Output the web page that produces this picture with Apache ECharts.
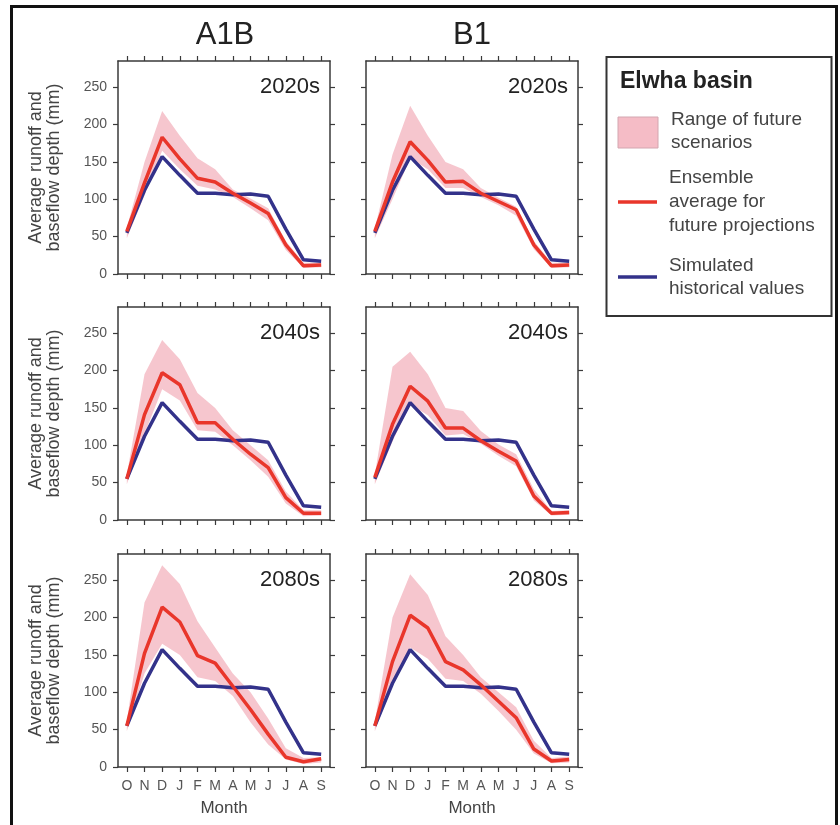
<!DOCTYPE html>
<html><head><meta charset="utf-8">
<script src="https://cdn.jsdelivr.net/npm/echarts@6/dist/echarts.min.js"></script>
<style>html,body{margin:0;padding:0;background:#fff}#c{width:840px;height:825px}</style>
</head><body><div id="c"></div>
<script>
// ---------- data ----------
const months = ['O','N','D','J','F','M','A','M','J','J','A','S'];
const yTicks = [0, 50, 100, 150, 200, 250];
const panelTitles = ['2020s', '2040s', '2080s'];
const scenarioTitles = ['A1B', 'B1'];

const historical = [55, 112, 157, 132, 108, 108, 106, 107, 104, 60, 19, 17];

const a1b2020sMean = [57, 122, 183, 154, 128, 123, 108, 95, 81, 39, 11, 12];
const a1b2020sHigh = [62, 150, 218, 185, 155, 140, 113, 101, 88, 44, 15, 15];
const a1b2020sLow  = [48, 105, 165, 140, 118, 113, 103, 88, 72, 32, 8, 9];

const b12020sMean = [57, 123, 177, 152, 123, 124, 108, 97, 86, 39, 11, 12];
const b12020sHigh = [61, 160, 225, 185, 150, 140, 115, 102, 90, 44, 15, 15];
const b12020sLow  = [48, 100, 155, 140, 115, 115, 103, 92, 78, 33, 8, 9];

const a1b2040sMean = [55, 141, 197, 181, 130, 130, 108, 88, 70, 30, 9, 9];
const a1b2040sHigh = [61, 195, 241, 215, 170, 150, 120, 100, 80, 38, 13, 13];
const a1b2040sLow  = [48, 115, 175, 160, 120, 118, 100, 80, 58, 22, 5, 6];

const b12040sMean = [57, 128, 179, 159, 123, 123, 106, 92, 79, 32, 9, 10];
const b12040sHigh = [61, 205, 225, 195, 150, 146, 119, 101, 88, 41, 12, 13];
const b12040sLow  = [48, 105, 155, 140, 113, 115, 102, 86, 72, 26, 6, 7];

const a1b2080sMean = [55, 152, 214, 194, 149, 139, 108, 77, 44, 13, 7, 11];
const a1b2080sHigh = [62, 220, 270, 245, 195, 160, 125, 100, 65, 25, 12, 13];
const a1b2080sLow  = [48, 125, 165, 150, 120, 115, 95, 60, 30, 10, 4, 6];

const b12080sMean = [55, 141, 203, 186, 141, 130, 110, 88, 66, 24, 8, 10];
const b12080sHigh = [61, 200, 258, 230, 175, 150, 120, 100, 80, 35, 12, 14];
const b12080sLow  = [48, 110, 160, 145, 118, 115, 98, 75, 50, 18, 5, 6];

// ---------- layout ----------
const FONT = 'Liberation Sans, Arial, Helvetica, sans-serif';
const frameColor = '#3a3a3a';
const redColor = '#e9362b';
const blueColor = '#33328a';
const pinkColor = '#f5bcc6';
const colLeft = [118, 366];
const rowTop = [61, 307, 554];
const W = 212, H = 213;
const YMAX = 285;

const panels = [
  {row:0, col:0, mean:a1b2020sMean, high:a1b2020sHigh, low:a1b2020sLow},
  {row:0, col:1, mean:b12020sMean,  high:b12020sHigh,  low:b12020sLow},
  {row:1, col:0, mean:a1b2040sMean, high:a1b2040sHigh, low:a1b2040sLow},
  {row:1, col:1, mean:b12040sMean,  high:b12040sHigh,  low:b12040sLow},
  {row:2, col:0, mean:a1b2080sMean, high:a1b2080sHigh, low:a1b2080sLow},
  {row:2, col:1, mean:b12080sMean,  high:b12080sHigh,  low:b12080sLow}
];

const grid = [], xAxis = [], yAxis = [], series = [], graphic = [];
const axisLineStyle = {show:true, onZero:false, lineStyle:{color:frameColor, width:1.5}};
const tickStyle = {lineStyle:{color:frameColor, width:1.2}, length:5};

panels.forEach((p, i) => {
  const left = colLeft[p.col], top = rowTop[p.row];
  grid.push({left:left, top:top, width:W, height:H, containLabel:false});
  const showX = p.row === 2;
  xAxis.push({
    gridIndex:i, type:'category', data:months, position:'bottom', boundaryGap:true,
    axisLine:axisLineStyle,
    axisTick:Object.assign({show:true, alignWithLabel:true, interval:0}, tickStyle),
    axisLabel:{show:showX, interval:0, margin:12, fontSize:14, color:'#555', fontFamily:FONT},
    name: showX ? 'Month' : '', nameLocation:'middle', nameGap:33,
    nameTextStyle:{fontSize:17, color:'#444', fontFamily:FONT}
  });
  xAxis.push({
    gridIndex:i, type:'category', data:months, position:'top', boundaryGap:true,
    axisLine:axisLineStyle,
    axisTick:Object.assign({show:true, alignWithLabel:true, interval:0}, tickStyle),
    axisLabel:{show:false}
  });
  yAxis.push({
    gridIndex:i, type:'value', min:0, max:YMAX, interval:50, position:'left',
    axisLine:axisLineStyle,
    axisTick:Object.assign({show:true, customValues:yTicks}, tickStyle),
    axisLabel:{show:p.col === 0, customValues:yTicks, margin:11, fontSize:14, color:'#555', fontFamily:FONT},
    splitLine:{show:false}
  });
  yAxis.push({
    gridIndex:i, type:'value', min:0, max:YMAX, interval:50, position:'right',
    axisLine:axisLineStyle,
    axisTick:Object.assign({show:true, customValues:yTicks}, tickStyle),
    axisLabel:{show:false}, splitLine:{show:false}
  });
  const xi = 2*i, yi = 2*i;
  const band = p.high.map((v, k) => v - p.low[k]);
  series.push({
    type:'line', xAxisIndex:xi, yAxisIndex:yi, data:p.low, stack:'band'+i,
    symbol:'none', lineStyle:{opacity:0}, silent:true, z:1
  });
  series.push({
    type:'line', xAxisIndex:xi, yAxisIndex:yi, data:band, stack:'band'+i,
    symbol:'none', lineStyle:{opacity:0}, areaStyle:{color:pinkColor, opacity:0.85}, silent:true, z:1
  });
  series.push({
    type:'line', xAxisIndex:xi, yAxisIndex:yi, data:historical,
    symbol:'none', lineStyle:{color:blueColor, width:3.5}, silent:true, z:3
  });
  series.push({
    type:'line', xAxisIndex:xi, yAxisIndex:yi, data:p.mean,
    symbol:'none', lineStyle:{color:redColor, width:3.5}, silent:true, z:4
  });
  // panel title
  graphic.push({type:'text', x:left + W - 10, y:top + 26, z:10,
    style:{text:panelTitles[p.row], fontSize:22, fontFamily:FONT, fill:'#222',
      textAlign:'right', textVerticalAlign:'middle'}});
  // y-axis name
  if (p.col === 0) {
    graphic.push({type:'text', x:45, y:top + H/2, rotation:Math.PI/2, z:10,
      style:{text:'Average runoff and\nbaseflow depth (mm)', fontSize:18, lineHeight:18,
        fontFamily:FONT, fill:'#444', textAlign:'center', textVerticalAlign:'middle'}});
  }
});

// scenario headings
scenarioTitles.forEach((t, c) => {
  graphic.push({type:'text', x:colLeft[c] + W/2 + (c === 0 ? 1 : 0), y:35, z:10,
    style:{text:t, fontSize:31, fontFamily:FONT, fill:'#222', textAlign:'center', textVerticalAlign:'middle'}});
});

// outer frame
graphic.push({type:'polyline', z:10, shape:{points:[[11.5,825],[11.5,6.5],[836.5,6.5],[836.5,825]]},
  style:{stroke:'#111', lineWidth:3, fill:null}});

// legend box
graphic.push({type:'rect', z:10, shape:{x:606.5, y:57, width:225, height:259},
  style:{stroke:'#333', lineWidth:2, fill:'#fff'}});
graphic.push({type:'text', x:620, y:82, z:11,
  style:{text:'Elwha basin', fontSize:23, fontWeight:'bold', fontFamily:FONT, fill:'#222', textVerticalAlign:'middle'}});
graphic.push({type:'rect', z:11, shape:{x:618, y:117, width:40, height:31},
  style:{fill:pinkColor, stroke:'#d3a6b0', lineWidth:1}});
graphic.push({type:'text', x:671, y:131, z:11,
  style:{text:'Range of future\nscenarios', fontSize:19, lineHeight:23, fontFamily:FONT, fill:'#444', textVerticalAlign:'middle'}});
graphic.push({type:'line', z:11, shape:{x1:618, y1:202, x2:657, y2:202},
  style:{stroke:redColor, lineWidth:3.5}});
graphic.push({type:'text', x:669, y:202, z:11,
  style:{text:'Ensemble\naverage for\nfuture projections', fontSize:19, lineHeight:24, fontFamily:FONT, fill:'#444', textVerticalAlign:'middle'}});
graphic.push({type:'line', z:11, shape:{x1:618, y1:277, x2:657, y2:277},
  style:{stroke:blueColor, lineWidth:3.5}});
graphic.push({type:'text', x:669, y:277, z:11,
  style:{text:'Simulated\nhistorical values', fontSize:19, lineHeight:23, fontFamily:FONT, fill:'#444', textVerticalAlign:'middle'}});

const chart = echarts.init(document.getElementById('c'), null, {renderer:'canvas'});
chart.setOption({
  animation:false, backgroundColor:'#fff',
  grid, xAxis, yAxis, series, graphic
});
</script></body></html>
